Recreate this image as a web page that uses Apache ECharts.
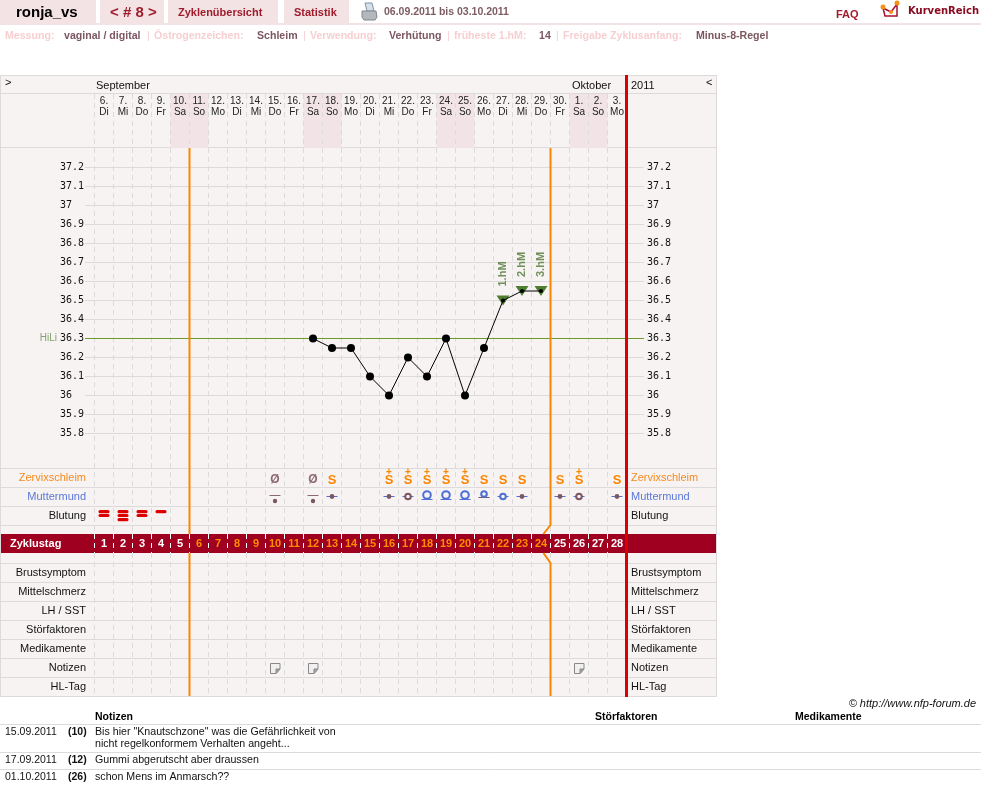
<!DOCTYPE html>
<html lang="de">
<head>
<meta charset="utf-8">
<title>ronja_vs – Zyklus 8</title>
<style>
  html, body { margin: 0; padding: 0; background: #fff; }
  #chart { width: 981px; height: 810px; }
</style>
<script src="https://cdn.jsdelivr.net/npm/echarts@6/dist/echarts.min.js"></script>
</head>
<body>
<div id="chart"></div>
<script>
// Cycle days: calendar date and weekday per column
const dates = ['6','7','8','9','10','11','12','13','14','15','16','17','18','19','20','21','22','23','24','25','26','27','28','29','30','1','2','3'];
const weekdays = ['Di','Mi','Do','Fr','Sa','So','Mo','Di','Mi','Do','Fr','Sa','So','Mo','Di','Mi','Do','Fr','Sa','So','Mo','Di','Mi','Do','Fr','Sa','So','Mo'];
const cycleDays = dates.map((_, i) => i + 1);

// Waking temperature per cycle day (null = not measured)
const temperatures = [null,null,null,null,null,null,null,null,null,null,null,36.3,36.25,36.25,36.1,36.0,36.2,36.1,36.3,36.0,36.25,36.5,36.55,36.55,null,null,null,null];
const highMeasureDays = [22, 23, 24];
const highMeasureLabels = ['1.hM', '2.hM', '3.hM'];
const coverLine = 36.3;

// Symptom rows, as [cycle day, code]
const mucus = [[10,'Ø'],[12,'Ø'],[13,'S'],[16,'S+'],[17,'S+'],[18,'S+'],[19,'S+'],[20,'S+'],[21,'S'],[22,'S'],[23,'S'],[25,'S'],[26,'S+'],[28,'S']];
const cervix = [[10,'low'],[12,'low'],[13,'flat'],[16,'flat'],[17,'ring'],[18,'open'],[19,'open'],[20,'open'],[21,'high'],[22,'ringBlue'],[23,'flat'],[25,'flat'],[26,'ring'],[28,'flat']];
const bleeding = [[1,2],[2,3],[3,2],[4,1]];

// Fertile window limits: last day before it, last day in it
const fertileStart = 5;
const fertileEnd = 24;

const upperRows = ['Zervixschleim', 'Muttermund', 'Blutung'];
const lowerRows = ['Brustsymptom', 'Mittelschmerz', 'LH / SST', 'Störfaktoren', 'Medikamente', 'Notizen', 'HL-Tag'];
const rowColors = { Zervixschleim: '#f58a1f', Muttermund: '#5a78d8' };

// Notes listed under the chart
const noteDates = ['15.09.2011', '17.09.2011', '01.10.2011'];
const noteDays = [10, 12, 26];
const noteTexts = [
  ['Bis hier "Knautschzone" was die Gefährlichkeit von', 'nicht regelkonformem Verhalten angeht...'],
  ['Gummi abgerutscht aber draussen'],
  ['schon Mens im Anmarsch??']
];

// Profile line above the chart: label / value pairs
const profileItems = [
  ['Messung:', 5, 'vaginal / digital', 64],
  ['Östrogenzeichen:', 154, 'Schleim', 257],
  ['Verwendung:', 310, 'Verhütung', 389],
  ['früheste 1.hM:', 454, '14', 539],
  ['Freigabe Zyklusanfang:', 563, 'Minus-8-Regel', 696]
];
const profileSeparators = [147, 303, 447, 556];

// Layout constants and palette
const PLOT_LEFT = 94.5, COL_W = 19, PLOT_W = COL_W * 28, PANEL_W = 717;
const LINE = '#dcdada', PANEL = '#f8f3f3', TAB = '#f3e3e5', PINK = '#f2e4e6';
const CRIMSON = '#a00020', TABTEXT = '#a01c2c', ORANGE = '#fa8500', RED = '#dd0000';
const GREEN = '#6b9b2a', HM = '#4f7f2e', HMTEXT = '#6f8f58', BLUE = '#4f6fd4', BROWN = '#7c5660';
const SANS = '"Liberation Sans", Arial, sans-serif';
const sectionLines = [75.5, 93.5, 147.5, 468.5, 487.5, 506.5, 525.5, 563.5, 582.5, 601.5, 620.5, 639.5, 658.5, 677.5, 696.5];

// ---- static page furniture ----
function text(x, y, str, font, fill, extra) {
  return { type: 'text', x, y, z: 10, silent: true,
    style: Object.assign({ text: str, font, fill, align: 'left', verticalAlign: 'middle' }, extra || {}) };
}
function rect(x, y, w, h, fill, z) {
  return { type: 'rect', z: z === undefined ? -1 : z, silent: true, shape: { x, y, width: w, height: h }, style: { fill } };
}
function hline(x1, x2, y, stroke, z, lw) {
  return { type: 'line', z: z === undefined ? -1 : z, silent: true, shape: { x1, y1: y, x2, y2: y }, style: { stroke, lineWidth: lw || 1 } };
}
function poly(points, style, z) {
  return { type: 'polygon', z: z === undefined ? 10 : z, silent: true, shape: { points }, style };
}
function circle(cx, cy, r, fill) {
  return { type: 'circle', z: 11, silent: true, shape: { cx, cy, r }, style: { fill } };
}

const furniture = [
  // tab bar
  rect(0, 0, 96, 23, TAB, 0), rect(100, 0, 64, 23, TAB, 0), rect(168, 0, 110, 23, TAB, 0), rect(284, 0, 65, 23, TAB, 0),
  rect(0, 23, 981, 2, TAB, 0),
  text(16, 13, 'ronja_vs', 'bold 15px ' + SANS, '#000'),
  text(110, 13, '< # 8 >', 'bold 15px ' + SANS, TABTEXT),
  text(178, 12.5, 'Zyklenübersicht', 'bold 11px ' + SANS, TABTEXT),
  text(294, 12.5, 'Statistik', 'bold 11px ' + SANS, TABTEXT),
  text(384, 12.5, '06.09.2011 bis 03.10.2011', 'bold 10.5px ' + SANS, '#7d5c62'),
  text(836, 14.5, 'FAQ', 'bold 11px ' + SANS, TABTEXT),
  text(908, 11, 'KurvenReich', 'bold 10px "DejaVu Sans", sans-serif', '#8a0a22'),
  // printer icon
  poly([[365, 3], [372, 3], [374, 11], [367, 11]], { fill: '#d6e0ea', stroke: '#7e93a8', lineWidth: 1 }),
  poly([[362, 11], [376, 11], [377, 17], [375, 20], [364, 20], [362, 17]], { fill: '#b4b8bc', stroke: '#80868c', lineWidth: 1 }),
  // logo
  poly([[883, 8], [885, 16], [897, 16], [897, 4], [891, 12]], { fill: 'none', stroke: '#a8102e', lineWidth: 1.5 }),
  circle(883, 7, 2.5, '#f59018'), circle(897, 3, 2.5, '#f59018'), circle(891, 12, 2, '#f59018'),
  // chart panel
  rect(0.5, 75.5, PANEL_W - 1, 621, PANEL, -5),
  rect(1, 534, PANEL_W - 1, 19, CRIMSON, -4),
  { type: 'rect', z: -3, silent: true, shape: { x: 0.5, y: 75.5, width: PANEL_W - 1, height: 621 }, style: { fill: 'none', stroke: LINE, lineWidth: 1 } },
  { type: 'line', z: 6, silent: true, shape: { x1: PLOT_LEFT + PLOT_W, y1: 75, x2: PLOT_LEFT + PLOT_W, y2: 697 }, style: { stroke: RED, lineWidth: 3 } },
  text(96, 85.5, 'September', '11px ' + SANS, '#111'),
  text(572, 85.5, 'Oktober', '11px ' + SANS, '#111'),
  text(631, 85.5, '2011', '11px ' + SANS, '#111'),
  text(5, 83, '>', '11px ' + SANS, '#111'),
  text(706, 83, '<', '11px ' + SANS, '#111'),
  // footer table
  text(976, 704, '© http://www.nfp-forum.de', 'italic 11px ' + SANS, '#111', { align: 'right' }),
  text(95, 717, 'Notizen', 'bold 10.5px ' + SANS, '#000'),
  text(595, 717, 'Störfaktoren', 'bold 10.5px ' + SANS, '#000'),
  text(795, 717, 'Medikamente', 'bold 10.5px ' + SANS, '#000'),
  hline(0, 981, 724.5, LINE, 0),
  hline(0, 981, 752.5, LINE, 0),
  hline(0, 981, 769.5, LINE, 0)
];

sectionLines.forEach(y => furniture.push(hline(1, PANEL_W - 1, y, LINE, -3)));

// profile line
profileItems.forEach(([label, lx, value, vx]) => {
  furniture.push(text(lx, 36, label, 'bold 10.6px ' + SANS, '#f7cfd1'));
  furniture.push(text(vx, 36, value, 'bold 10.6px ' + SANS, BROWN));
});
profileSeparators.forEach(x => furniture.push(text(x, 36, '|', '11px ' + SANS, '#f7cfd1')));

// note rows
const noteRowY = [732, 760, 777];
noteDates.forEach((d, i) => {
  furniture.push(text(5, noteRowY[i], d, '10.5px ' + SANS, '#111'));
  furniture.push(text(68, noteRowY[i], '(' + noteDays[i] + ')', 'bold 10.5px ' + SANS, '#111'));
  noteTexts[i].forEach((line, k) => furniture.push(text(95, noteRowY[i] + k * 12, line, '10.65px ' + SANS, '#111')));
});

// ---- grids and axes ----
const plotGrid = (top, height) => ({ left: PLOT_LEFT, width: PLOT_W, top, height });
const grids = [
  plotGrid(94, 54),      // 0 date header
  plotGrid(94, 440),     // 1 column dashes, upper part
  plotGrid(553, 143),    // 2 column dashes, lower part
  plotGrid(534, 19),     // 3 cycle day band
  plotGrid(148.5, 304),  // 4 temperature
  { left: 85, width: 559, top: 148.5, height: 304 }, // 5 temperature grid lines and cover line
  plotGrid(468.5, 57),   // 6 upper symptom rows
  plotGrid(563.5, 133),  // 7 lower symptom rows
  plotGrid(148, 548)     // 8 fertile window limits (y counted in pixels from the chart top)
];

const dayAxis = (gridIndex, over) => Object.assign({
  type: 'category', gridIndex, data: dates, boundaryGap: true,
  axisLine: { show: false }, axisTick: { show: false }, axisLabel: { show: false }, splitLine: { show: false }
}, over);
const dashes = (color) => ({ show: true, interval: 0, lineStyle: { color, type: [5, 4], width: 1 } });

const xAxes = [
  dayAxis(0, { position: 'top', z: 4, axisLabel: { show: true, inside: true, interval: 0, margin: 2,
    fontFamily: 'Liberation Sans', fontSize: 10, lineHeight: 10.5, color: '#222', verticalAlign: 'top',
    formatter: (v, i) => v + '.\n' + weekdays[i] } }),
  dayAxis(1, { z: 3, splitLine: dashes(LINE) }),
  dayAxis(2, { z: 3, splitLine: dashes(LINE) }),
  dayAxis(3, { z: 3, splitLine: dashes('#ffffff') }),
  dayAxis(4),
  { type: 'value', gridIndex: 5, min: 0, max: 1, show: false, splitLine: { show: false } },
  dayAxis(6),
  dayAxis(7),
  { type: 'value', gridIndex: 8, min: 0, max: 28, show: false, splitLine: { show: false } }
];

const rowAxis = (gridIndex, rows, position, margin, align) => ({
  type: 'category', gridIndex, data: rows, inverse: true, position,
  axisLine: { show: false }, axisTick: { show: false }, splitLine: { show: false },
  axisLabel: { interval: 0, margin, align, fontFamily: 'Liberation Sans', fontSize: 11,
    color: v => rowColors[v] || '#111' }
});
const tempAxis = (position, margin) => ({
  type: 'value', gridIndex: 4, position, min: 35.7, max: 37.3, interval: 0.1,
  axisLine: { show: false }, axisTick: { show: false }, splitLine: { show: false },
  axisLabel: { margin, align: 'left', showMinLabel: false, showMaxLabel: false,
    fontFamily: 'DejaVu Sans Mono', fontSize: 10, color: '#111' }
});

const yAxes = [
  { type: 'value', gridIndex: 0, min: 0, max: 1, show: false, splitLine: { show: false } },            // 0
  { type: 'value', gridIndex: 1, show: false, splitLine: { show: false } },                             // 1
  { type: 'value', gridIndex: 2, show: false, splitLine: { show: false } },                             // 2
  { type: 'category', gridIndex: 3, data: ['Zyklustag'], axisLine: { show: false }, axisTick: { show: false },
    axisLabel: { margin: 84.5, align: 'left', fontFamily: 'Liberation Sans', fontSize: 11, fontWeight: 'bold', color: '#fff' } }, // 3
  tempAxis('left', 34.5),   // 4
  tempAxis('right', 20.5),  // 5
  { type: 'value', gridIndex: 5, min: 35.7, max: 37.3, interval: 0.1, axisLine: { show: false }, axisTick: { show: false },
    axisLabel: { show: false }, splitLine: { show: true, showMinLine: false, showMaxLine: false, lineStyle: { color: LINE, width: 1 } } }, // 6
  rowAxis(6, upperRows, 'left', 8.5, 'right'),   // 7
  rowAxis(6, upperRows, 'right', 4.5, 'left'),   // 8
  rowAxis(7, lowerRows, 'left', 8.5, 'right'),   // 9
  rowAxis(7, lowerRows, 'right', 4.5, 'left'),   // 10
  { type: 'value', gridIndex: 8, min: 148, max: 696, inverse: true, show: false, splitLine: { show: false } } // 11
];

// ---- custom glyph renderers ----
const rowSeries = (name, xAxisIndex, yAxisIndex, rowName, items, draw) => ({
  type: 'custom', name, xAxisIndex, yAxisIndex, z: 5, silent: true, clip: false,
  data: items.map(it => [it[0] - 1, rowName]),
  renderItem: (params, api) => {
    const item = items[params.dataIndex];
    const c = api.coord([item[0] - 1, yAxes[yAxisIndex].data.indexOf(rowName)]);
    return { type: 'group', children: draw(c[0], c[1], item[1]) };
  }
});
const glyph = (x, y, str, font, fill) => ({ type: 'text', x, y, style: { text: str, font, fill, align: 'center', verticalAlign: 'middle' } });
const seg = (x1, y1, x2, y2, stroke, lw) => ({ type: 'line', shape: { x1, y1, x2, y2 }, style: { stroke, lineWidth: lw || 1 } });
const dot = (cx, cy, r, fill) => ({ type: 'circle', shape: { cx, cy, r }, style: { fill } });
const ring = (cx, cy, r, stroke, lw) => ({ type: 'circle', shape: { cx, cy, r }, style: { fill: PANEL, stroke, lineWidth: lw } });

function drawMucus(x, y, code) {
  if (code === 'Ø') return [glyph(x, y + 2, 'Ø', 'bold 12px ' + SANS, '#8a6a70')];
  const parts = [glyph(x, y + 2.5, 'S', 'bold 13px ' + SANS, ORANGE)];
  if (code === 'S+') parts.push(glyph(x, y - 6, '+', 'bold 10px ' + SANS, ORANGE));
  return parts;
}
function drawCervix(x, y, code) {
  const yl = Math.round(y) - 0.5;
  switch (code) {
    case 'low':
      return [seg(x - 5.5, yl - 1, x + 5.5, yl - 1, '#8a6a70'), dot(x, yl + 4.5, 2.2, BROWN)];
    case 'flat':
      return [seg(x - 5.5, yl, x + 5.5, yl, BLUE), dot(x, yl, 2.4, BROWN)];
    case 'ring':
      return [seg(x - 5.5, yl, x + 5.5, yl, BLUE), ring(x, yl, 2.8, BROWN, 2)];
    case 'ringBlue':
      return [seg(x - 5.5, yl, x + 5.5, yl, BLUE), ring(x, yl, 2.8, BLUE, 2)];
    case 'open':
      return [seg(x - 5.5, yl + 3, x + 5.5, yl + 3, BLUE), ring(x, yl - 1.5, 3.8, BLUE, 2)];
    case 'high':
      return [seg(x - 5.5, yl + 1, x + 5.5, yl + 1, BROWN), ring(x, yl - 2.5, 2.8, BLUE, 2)];
  }
  return [];
}
function drawBleeding(x, y, amount) {
  const offsets = [-4.5, -0.6, 3.6];
  return offsets.slice(0, amount).map(o => ({
    type: 'rect', shape: { x: x - 5.5, y: y + o - 1.5, width: 11, height: 3.2, r: 1.5 }, style: { fill: RED }
  }));
}
function drawNote(x, y) {
  const l = x - 5, t = Math.round(y) - 5;
  return [
    { type: 'polygon', shape: { points: [[l + 0.5, t + 0.5], [l + 10, t + 0.5], [l + 10, t + 6], [l + 6, t + 10.5], [l + 0.5, t + 10.5]] },
      style: { fill: '#f1efef', stroke: '#888', lineWidth: 1 } },
    { type: 'polygon', shape: { points: [[l + 10, t + 6], [l + 6, t + 6], [l + 6, t + 10.5]] }, style: { fill: '#aaa', stroke: '#888', lineWidth: 1 } }
  ];
}

// ---- series ----
const weekendFlags = weekdays.map(d => (d === 'Sa' || d === 'So') ? 1 : 0);
const highMeasureSeries = temperatures.map((v, i) => {
  const k = highMeasureDays.indexOf(i + 1);
  return k < 0 ? null : { value: v, label: { formatter: highMeasureLabels[k] } };
});

// Fertile window limits, drawn around the cycle day band
const limitSegments = [
  [[fertileStart, 148], [fertileStart, 534]],
  [[fertileStart, 553], [fertileStart, 696]],
  [[fertileEnd, 148], [fertileEnd, 525], [fertileEnd - 0.37, 534]],
  [[fertileEnd - 0.37, 553], [fertileEnd, 563], [fertileEnd, 696]]
];

const series = [
  { type: 'bar', name: 'Wochenende', xAxisIndex: 0, yAxisIndex: 0, z: 1, silent: true, barWidth: '100%',
    data: weekendFlags, itemStyle: { color: PINK } },
  // carriers so the dash-only axes stay laid out
  { type: 'line', xAxisIndex: 1, yAxisIndex: 1, data: [], silent: true },
  { type: 'line', xAxisIndex: 2, yAxisIndex: 2, data: [], silent: true },
  { type: 'line', name: 'Deckungslinie', xAxisIndex: 5, yAxisIndex: 6, z: 3, data: [], silent: true,
    markLine: { silent: true, symbol: 'none', animation: false,
      lineStyle: { color: GREEN, width: 1, type: 'solid' },
      label: { show: true, position: 'start', distance: 28, formatter: 'HiLi', color: '#86a070', fontFamily: 'Liberation Sans', fontSize: 10 },
      data: [{ yAxis: coverLine }] } },
  { type: 'scatter', name: 'Höhere Messungen', xAxisIndex: 4, yAxisIndex: 4, z: 4, silent: true,
    data: highMeasureSeries, symbol: 'triangle', symbolRotate: 180, symbolSize: [13, 10],
    itemStyle: { color: HM, opacity: 1 },
    label: { show: true, position: 'top', distance: 9, rotate: 90, align: 'left', verticalAlign: 'middle',
      color: HMTEXT, fontFamily: 'Liberation Sans', fontWeight: 'bold', fontSize: 11 } },
  { type: 'line', name: 'Temperatur', xAxisIndex: 4, yAxisIndex: 4, z: 5, silent: true, animation: false,
    data: temperatures, showAllSymbol: true, symbol: 'circle',
    symbolSize: (v, p) => highMeasureDays.includes(p.dataIndex + 1) ? 4 : 8,
    lineStyle: { color: '#000', width: 1 }, itemStyle: { color: '#000' } },
  { type: 'custom', name: 'Zyklustag', xAxisIndex: 3, yAxisIndex: 3, z: 5, silent: true,
    data: cycleDays.map((d, i) => [i, 0]),
    renderItem: (p, api) => {
      const c = api.coord([p.dataIndex, 0]);
      const day = cycleDays[p.dataIndex];
      const inWindow = day > fertileStart && day <= fertileEnd;
      return glyph(c[0], c[1] + 0.5, String(day), 'bold 11px ' + SANS, inWindow ? '#ff8c00' : '#fff');
    } },
  rowSeries('Zervixschleim', 6, 7, 'Zervixschleim', mucus, drawMucus),
  rowSeries('Muttermund', 6, 7, 'Muttermund', cervix, drawCervix),
  rowSeries('Blutung', 6, 7, 'Blutung', bleeding, drawBleeding),
  rowSeries('Notizen', 7, 9, 'Notizen', noteDays.map(d => [d, 1]), drawNote)
].concat(limitSegments.map(data => ({
  type: 'line', xAxisIndex: 8, yAxisIndex: 11, z: 6, silent: true, animation: false, symbol: 'none', data,
  lineStyle: { color: ORANGE, width: 2 }
})));

// Row axes on the right only need their labels; keep them bound with an empty series each
series.push({ type: 'line', xAxisIndex: 6, yAxisIndex: 8, data: [], silent: true });
series.push({ type: 'line', xAxisIndex: 7, yAxisIndex: 10, data: [], silent: true });
series.push({ type: 'line', xAxisIndex: 4, yAxisIndex: 5, data: [], silent: true });

const chart = echarts.init(document.getElementById('chart'), null, { renderer: 'canvas' });
chart.setOption({
  animation: false,
  backgroundColor: '#ffffff',
  tooltip: { show: false },
  grid: grids,
  xAxis: xAxes,
  yAxis: yAxes,
  graphic: { elements: furniture },
  series
});
</script>
</body>
</html>
